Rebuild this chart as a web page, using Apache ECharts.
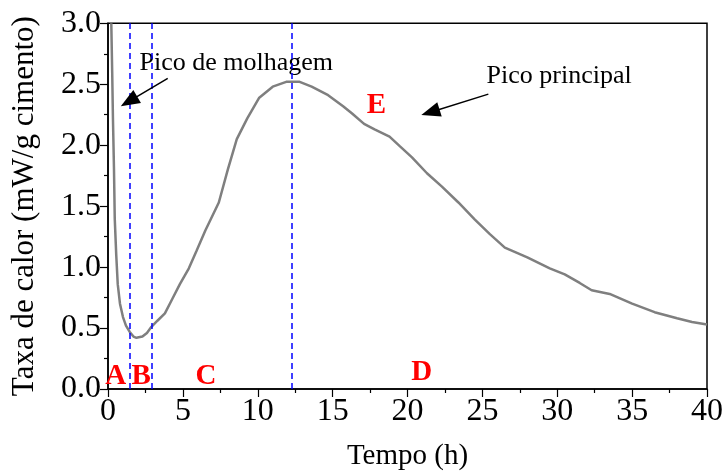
<!DOCTYPE html>
<html>
<head>
<meta charset="utf-8">
<script src="https://cdn.jsdelivr.net/npm/echarts@6/dist/echarts.min.js"></script>
<style>html,body{margin:0;padding:0;background:#fff;}#c{width:726px;height:476px;}</style>
</head>
<body>
<div id="c"></div>
<script>
var time = [0.22, 0.28, 0.33, 0.4, 0.45, 0.55, 0.65, 0.8, 1.0, 1.2, 1.44, 1.7, 1.9, 2.3, 2.6, 2.9, 3.3, 3.8, 4.3, 4.8, 5.4, 5.9, 6.5, 7.4, 8.0, 8.6, 9.3, 10.1, 11.0, 11.9, 12.8, 13.6, 14.7, 15.7, 16.3, 17.1, 17.8, 18.8, 19.5, 20.3, 21.3, 22.3, 23.4, 24.5, 25.5, 26.5, 28, 29.5, 30.5, 31.5, 32.3, 33.5, 35, 36.5, 38, 39, 40];
var heatRate = [3.0, 2.6, 2.22, 1.8, 1.40, 1.1, 0.86, 0.7, 0.59, 0.52, 0.47, 0.43, 0.42, 0.43, 0.46, 0.51, 0.56, 0.62, 0.74, 0.86, 0.99, 1.13, 1.30, 1.53, 1.80, 2.05, 2.22, 2.39, 2.48, 2.52, 2.52, 2.48, 2.41, 2.32, 2.26, 2.175, 2.13, 2.07, 1.99, 1.90, 1.77, 1.66, 1.53, 1.39, 1.27, 1.16, 1.08, 0.99, 0.94, 0.87, 0.81, 0.78, 0.70, 0.63, 0.58, 0.55, 0.53];
var dashedX = [1.44, 2.93, 12.27];
var letterNames = ['A', 'B', 'C', 'D', 'E'];
var letterX = [0.51, 2.22, 6.55, 20.95, 17.92];
var letterY = [0.105, 0.105, 0.105, 0.135, 2.325];
var noteTexts = ['Pico de molhagem', 'Pico principal'];
var noteX = [2.1, 25.28];
var noteY = [2.67, 2.565];
var arrowFrom = [[3.99, 2.548], [25.4, 2.419]];
var arrowTo = [[1.4, 2.36], [21.53, 2.271]];
var xTicks = [0, 5, 10, 15, 20, 25, 30, 35, 40];
var yTicks = [0.0, 0.5, 1.0, 1.5, 2.0, 2.5, 3.0];

var font = 'Liberation Serif';
var chart = echarts.init(document.getElementById('c'));
var curve = time.map(function (t, i) { return [t, heatRate[i]]; });

chart.setOption({
  animation: false,
  backgroundColor: '#fff',
  grid: { left: 108, right: 16.5, top: 23.3, bottom: 82.7, show: true, borderColor: '#000', borderWidth: 1.5, backgroundColor: 'transparent' },
  xAxis: {
    type: 'value', min: xTicks[0], max: xTicks[xTicks.length - 1], interval: 5,
    name: 'Tempo (h)', nameLocation: 'middle', nameGap: 53,
    nameTextStyle: { fontFamily: font, fontSize: 29, color: '#000' },
    axisLine: { show: true, lineStyle: { color: '#000', width: 1.5 } },
    axisTick: { show: true, inside: false, length: 8, lineStyle: { color: '#000', width: 1.2 } },
    minorTick: { show: true, splitNumber: 2, length: 4, lineStyle: { color: '#000', width: 1.2 } },
    splitLine: { show: false },
    axisLabel: { fontFamily: font, fontSize: 32, color: '#000', margin: 7 }
  },
  yAxis: {
    type: 'value', min: yTicks[0], max: yTicks[yTicks.length - 1], interval: 0.5,
    name: 'Taxa de calor (mW/g cimento)', nameLocation: 'middle', nameGap: 68,
    nameTextStyle: { fontFamily: font, fontSize: 31, color: '#000' },
    axisLine: { show: true, lineStyle: { color: '#000', width: 1.5 } },
    axisTick: { show: true, inside: false, length: 8, lineStyle: { color: '#000', width: 1.2 } },
    minorTick: { show: true, splitNumber: 2, length: 4, lineStyle: { color: '#000', width: 1.2 } },
    splitLine: { show: false },
    axisLabel: { fontFamily: font, fontSize: 32, color: '#000', margin: 7, formatter: function (v) { return v.toFixed(1); } }
  },
  series: [
    {
      type: 'line', data: curve, showSymbol: false, symbol: 'none', smooth: false,
      lineStyle: { color: '#7f7f7f', width: 2.5 }, clip: true,
      markLine: {
        silent: true, symbol: ['none', 'none'], animation: false,
        label: { show: false },
        lineStyle: { color: '#0000ff', width: 1.5, type: [6, 4] },
        data: dashedX.map(function (x) { return { xAxis: x }; })
      }
    },
    {
      type: 'line', data: [], symbol: 'none',
      markLine: {
        silent: true, animation: false,
        symbol: ['none', 'triangle'], symbolSize: [15, 19],
        label: { show: false },
        lineStyle: { color: '#000', width: 1.5, type: 'solid', opacity: 1 },
        itemStyle: { color: '#000', opacity: 1 },
        data: arrowFrom.map(function (p, i) { return [{ coord: p }, { coord: arrowTo[i] }]; })
      }
    },
    {
      type: 'scatter', symbolSize: 0, silent: true,
      itemStyle: { opacity: 1, color: '#ff0000' },
      data: letterNames.map(function (n, i) { return { value: [letterX[i], letterY[i]], name: n }; }),
      label: { show: true, position: 'inside', formatter: '{b}', fontFamily: font, fontSize: 29, fontWeight: 'bold', color: '#ff0000', opacity: 1, textBorderWidth: 0 }
    },
    {
      type: 'scatter', symbolSize: 0, silent: true,
      itemStyle: { opacity: 1, color: '#000' },
      data: noteTexts.map(function (n, i) { return { value: [noteX[i], noteY[i]], name: n }; }),
      label: { show: true, position: 'right', distance: 0, formatter: '{b}', fontFamily: font, fontSize: 26, color: '#000', opacity: 1, textBorderWidth: 0 }
    }
  ]
});
</script>
</body>
</html>
